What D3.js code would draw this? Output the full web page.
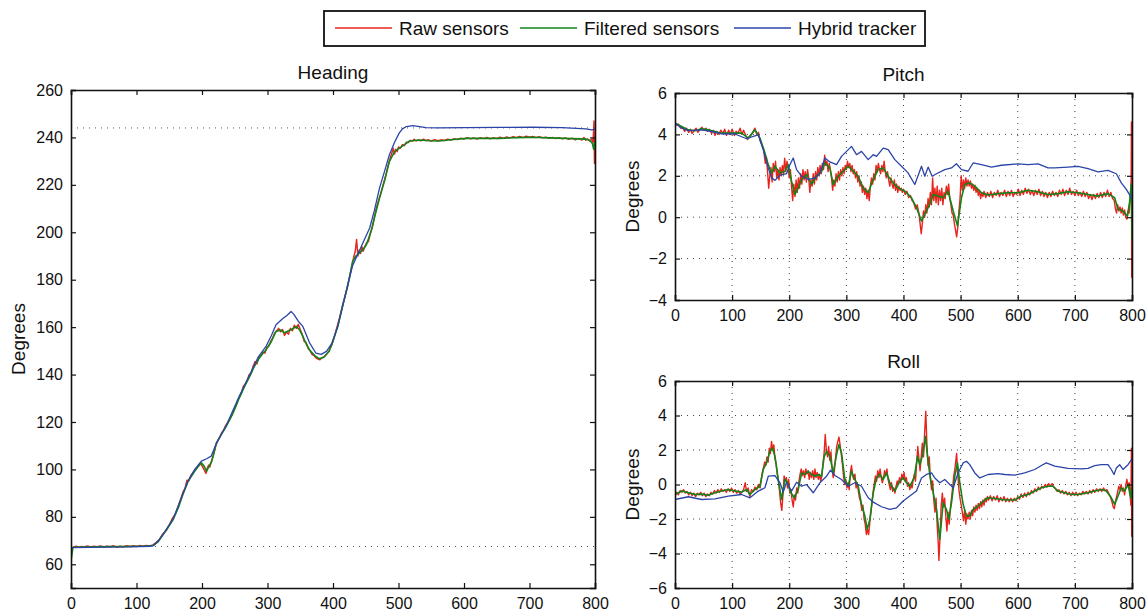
<!DOCTYPE html>
<html><head><meta charset="utf-8">
<script src="https://cdn.jsdelivr.net/npm/d3@7"></script>
<style>
body{margin:0;background:#fff;}
svg{display:block;font-family:"Liberation Sans",Arial,Helvetica,sans-serif;}
</style></head>
<body><svg id="c" width="1148" height="616"></svg>
<script>
// ---------------- DATA ----------------
const seriesNames = ["Raw sensors", "Filtered sensors", "Hybrid tracker"];
const xTicks = [0,100,200,300,400,500,600,700,800];
const headingTicks = [60,80,100,120,140,160,180,200,220,240,260];
const pitchTicks = [-4,-2,0,2,4,6];
const rollTicks = [-6,-4,-2,0,2,4,6];
const headingRefLines = [244, 67.5];

const headingRaw = [[0,66.5],[4,67.3],[8,67.6],[12,67.2],[16,67.5],[20,67.3],[25,67.7],[30,67.3],[35,67.6],[40,67.4],[45,67.7],[50,67.3],[55,67.6],[60,67.4],[65,67.8],[70,67.2],[75,67.6],[80,67.4],[85,67.8],[90,67.5],[95,67.8],[100,67.5],[105,67.9],[110,67.6],[115,67.9],[120,67.7],[125,68.2],[130,69.2],[135,70.5],[140,72.8],[145,74],[150,76.5],[155,79.5],[160,81.5],[165,85.5],[168,88],[171,90.5],[174,92],[177,95.5],[180,95.2],[183,97.5],[186,98.5],[189,99.8],[192,100.5],[195,101.8],[198,102.5],[201,101],[204,99.5],[206,98.3],[208,100.5],[210,101.8],[212,101],[215,104],[218,106.5],[221,110],[224,112],[227,113.5],[230,115.5],[233,116.5],[236,118.5],[240,120],[244,122],[248,124.5],[252,127],[256,130],[260,132],[263,135],[266,136],[269,137.5],[272,140],[275,140.5],[278,143.5],[281,145.5],[284,144.5],[287,147.5],[290,148],[293,149.5],[296,149],[299,151.5],[302,152],[305,154],[308,155.5],[311,157.5],[314,158.5],[317,159.5],[320,158],[323,159],[326,156.5],[329,158],[332,157],[335,159.5],[338,158.5],[341,160.8],[344,159.5],[347,161.2],[350,159],[353,157],[356,154],[359,153.5],[362,151],[365,150],[368,148.5],[371,148],[374,147],[377,146.5],[380,146.2],[383,147],[386,147.5],[390,148.5],[394,150],[398,152.5],[402,156],[406,160],[410,164],[414,168.5],[418,172.5],[422,177],[426,182],[429,186],[432,190],[434,192],[436,197],[438,190],[440,192.5],[442,191],[444,194],[446,192],[448,193.5],[451,195.5],[454,196],[457,199.5],[460,202],[463,206],[466,210],[469,213],[472,215.5],[475,218.5],[478,221.5],[481,224.5],[484,228],[487,231],[490,233.5],[492,235.5],[494,233],[496,235],[498,234],[500,236],[503,235.5],[506,237],[509,236.5],[512,238],[515,237.8],[518,238.8],[521,238.4],[524,239.2],[527,238.5],[530,239],[534,238.5],[538,239.3],[542,238.7],[546,239],[550,238.4],[555,239.1],[560,238.6],[565,239],[570,238.7],[575,239.3],[580,238.9],[585,239.5],[590,239.1],[595,239.7],[600,239.3],[605,239.9],[610,239.4],[615,239.8],[620,239.3],[625,239.9],[630,239.5],[635,240],[640,239.4],[645,239.9],[650,239.5],[655,240.1],[660,239.6],[665,240.2],[670,239.8],[675,240.3],[680,239.9],[685,240.4],[690,239.9],[695,240.5],[700,240.1],[705,240.4],[710,239.9],[715,240.3],[720,239.8],[725,240.1],[730,239.6],[735,240],[740,239.5],[745,239.9],[750,239.4],[755,239.8],[760,239.2],[765,239.7],[770,239],[775,239.6],[780,238.9],[783,240],[786,238.8],[789,239.3],[792,238.5],[795,239.2],[797,238],[798.5,247],[799.2,229],[800,240]];

const headingFiltered = [[0,61.5],[3,67.2],[20,67.3],[40,67.4],[60,67.5],[80,67.5],[100,67.6],[115,67.7],[125,67.9],[133,69.5],[141,72.6],[148,75.5],[156,78.9],[164,84],[171,89.5],[179,95.1],[189,99.3],[195,101.5],[199,102.8],[203,101.5],[207,99.3],[211,101.5],[215,103.5],[222,111.2],[230,115],[237,118.2],[247,123.5],[257,130.2],[265,135],[273,139.3],[280,143.5],[286,146.3],[293,149],[298,150.5],[305,153.5],[313,158.2],[320,158.8],[326,157.6],[333,158.6],[338,159.2],[344,160.3],[349,158.8],[354,156.1],[359,153],[364,150.5],[372,148],[379,146.7],[386,147.3],[394,149.8],[400,154],[408,161],[415,169.5],[423,178],[430,187.7],[435,190],[440,191.2],[445,192.5],[451,194.7],[458,200.3],[464,207],[471,214.4],[479,222],[486,229.8],[494,234],[501,235.4],[509,237],[517,238.5],[532,238.9],[547,238.6],[562,238.5],[580,239],[603,239.6],[630,239.6],[654,239.6],[680,239.9],[705,240.1],[730,239.8],[755,239.6],[775,239.4],[786,239.3],[792,238.8],[796,237.5],[798,235],[800,238.5]];

const headingHybrid = [[0,67],[30,67.1],[60,67.2],[90,67.3],[120,67.6],[126,67.9],[133,69.8],[141,72.8],[156,79.2],[171,89.8],[179,95.3],[189,100],[199,103.5],[207,104.5],[214,105.6],[222,111],[237,118.5],[257,131],[273,140],[286,147.5],[298,152],[306,156.5],[313,161],[323,163.5],[330,165],[336,166.6],[340,165.5],[347,162.5],[354,160.3],[364,153.5],[374,149],[382,148.5],[390,149.8],[398,153],[407,160],[415,169],[423,178.5],[430,186],[440,192],[448,197],[456,201.8],[463,209],[471,218.6],[479,226],[486,232.6],[494,238],[501,241.8],[506,243.6],[512,244.6],[522,245],[532,244.6],[542,244.1],[560,244],[603,244.1],[650,244.2],[705,244.3],[750,244.1],[786,243.6],[795,243.2],[800,243.5]];

const pitchRaw = [[0,4.6],[3,4.45],[6,4.5],[10,4.3],[13,4.35],[17,4.15],[20,4.3],[24,4.1],[27,4.25],[30,4.05],[34,4.2],[37,4.3],[40,4.1],[44,4.25],[47,4.35],[50,4.2],[54,4.3],[57,4.15],[60,4.25],[64,4.05],[67,4.2],[70,3.95],[73,4.15],[77,4.0],[80,4.2],[84,4.05],[87,4.25],[90,3.95],[94,4.2],[97,4.0],[100,4.25],[104,3.95],[107,4.15],[110,4.05],[114,4.3],[117,4.0],[120,4.2],[124,3.95],[127,3.75],[130,3.9],[134,4.0],[137,4.15],[140,4.3],[143,4.0],[146,4.1],[149,3.7],[152,3.5],[155,3.3],[158,2.6],[160,2.9],[162,2.2],[164,1.4],[166,2.0],[168,2.4],[170,1.7],[172,2.6],[174,2.2],[176,2.7],[178,1.9],[180,2.3],[182,1.8],[184,2.4],[186,2.0],[188,2.5],[190,2.1],[192,2.85],[194,2.2],[196,2.7],[198,2.4],[200,1.9],[202,2.3],[204,1.5],[206,0.8],[208,1.6],[210,1.0],[212,1.8],[214,1.2],[216,1.9],[218,1.4],[220,2.1],[222,1.6],[224,2.3],[226,1.8],[228,2.2],[230,1.7],[232,2.3],[234,1.9],[236,1.2],[238,1.8],[240,1.5],[242,2.1],[244,1.6],[246,2.2],[248,1.8],[250,2.4],[252,2.0],[254,2.5],[256,2.1],[258,2.6],[260,2.3],[262,3.0],[264,2.5],[266,2.7],[268,2.2],[270,2.6],[272,2.3],[274,1.9],[276,1.3],[278,1.8],[280,1.5],[282,2.1],[284,1.7],[286,2.2],[288,1.8],[290,2.3],[292,2.0],[294,2.4],[296,2.1],[298,2.5],[300,2.3],[302,2.7],[304,2.4],[306,2.6],[308,2.2],[310,2.5],[312,2.1],[314,2.3],[316,1.9],[318,2.2],[320,1.7],[322,2.0],[324,1.5],[326,1.7],[328,1.2],[330,1.5],[332,1.1],[334,1.4],[336,0.9],[338,1.3],[340,0.8],[342,1.5],[344,1.9],[346,1.6],[348,2.1],[350,1.8],[352,2.5],[354,2.2],[356,2.6],[358,2.3],[360,2.1],[362,2.5],[364,2.2],[366,2.7],[368,2.2],[370,1.9],[372,2.2],[374,1.8],[376,1.5],[378,1.9],[380,1.6],[382,1.4],[384,1.8],[386,1.3],[388,1.6],[390,1.2],[392,1.5],[394,1.3],[396,1.4],[398,1.2],[400,1.35],[403,1.1],[406,1.25],[409,0.95],[412,1.05],[415,0.8],[418,0.7],[421,0.4],[424,0.6],[427,0.2],[429,-0.3],[431,-0.8],[433,-0.3],[435,0.3],[437,0.0],[439,0.6],[441,0.2],[443,0.9],[445,0.5],[447,1.2],[449,0.6],[451,1.9],[453,0.8],[455,1.4],[457,0.7],[459,1.5],[461,0.6],[463,1.3],[465,0.8],[467,1.4],[469,0.6],[471,1.2],[473,0.9],[475,1.5],[477,1.1],[479,1.6],[481,0.9],[483,0.6],[485,0.2],[487,0.1],[489,-0.3],[491,-0.6],[493,-0.95],[495,-0.5],[497,0.3],[499,0.9],[501,2.0],[503,1.3],[505,1.8],[507,1.4],[509,1.9],[511,1.5],[513,1.8],[515,1.5],[517,1.75],[519,1.4],[521,1.6],[523,1.3],[525,1.55],[527,1.2],[529,1.4],[531,1.05],[533,1.3],[535,0.9],[537,1.2],[539,1.0],[541,1.25],[544,0.95],[547,1.2],[550,1.0],[553,1.25],[556,0.95],[559,1.2],[562,1.05],[565,1.3],[568,1.0],[571,1.2],[574,1.05],[577,1.3],[580,1.0],[583,1.25],[586,1.05],[589,1.3],[592,1.0],[595,1.2],[598,1.1],[601,1.35],[604,1.05],[607,1.3],[610,1.1],[613,1.4],[616,1.15],[619,1.35],[622,1.1],[625,1.3],[628,1.05],[631,1.3],[634,1.1],[637,1.35],[640,1.05],[643,1.25],[646,1.0],[649,1.2],[652,0.95],[655,1.2],[658,1.0],[661,1.25],[664,1.05],[667,1.2],[670,1.0],[673,1.3],[676,1.1],[679,1.35],[682,1.05],[685,1.3],[688,1.1],[691,1.4],[694,1.1],[697,1.25],[700,1.05],[703,1.3],[706,1.05],[709,1.2],[712,1.0],[715,1.25],[718,1.0],[721,1.2],[724,0.9],[727,1.1],[730,0.85],[733,1.1],[736,0.9],[739,1.15],[742,0.95],[745,1.2],[748,0.95],[751,1.2],[754,1.0],[757,1.3],[760,1.0],[763,1.2],[766,0.9],[769,0.8],[771,0.4],[773,0.2],[775,0.6],[777,0.3],[779,0.5],[781,0.2],[783,0.45],[785,0.1],[787,0.35],[789,0.0],[791,-0.1],[793,0.3],[795,0.2],[797,1.0],[798.5,1.8],[799,4.6],[799.5,-2.9],[800,1.2]];

const pitchFiltered = [[0,4.54],[11.7,4.38],[23.3,4.22],[35,4.18],[46.6,4.27],[58.3,4.22],[70,4.14],[81.6,4.06],[99,4.06],[116.6,4.06],[128.3,3.82],[140,4.22],[148.7,3.82],[157.4,3.1],[163.3,2.54],[169,2.14],[175,2.46],[183.7,2.14],[192.4,2.22],[198.3,2.54],[204,1.74],[210,1.1],[215.7,1.42],[221.6,1.82],[230.3,2.06],[239,1.58],[247.8,1.98],[256.6,2.22],[262.4,2.62],[271,2.38],[277,1.58],[285.7,1.98],[294.5,2.22],[303.2,2.46],[312,2.22],[320.7,1.98],[329.4,1.42],[338.2,1.18],[347,1.82],[355.7,2.3],[364.4,2.38],[373.2,1.98],[382,1.66],[390.7,1.42],[402.3,1.26],[414,0.94],[422.7,0.46],[431.5,-0.18],[437.3,0.14],[446,0.62],[452,1.1],[460.6,1.02],[469.4,0.94],[478,1.26],[487,0.3],[494.5,-0.42],[501.5,0.94],[507.3,1.58],[516,1.66],[524.8,1.5],[536.4,1.18],[548,1.07],[565.6,1.14],[583,1.18],[600.6,1.18],[618,1.3],[635.6,1.23],[653,1.1],[670.6,1.14],[688,1.23],[705.5,1.18],[723,1.1],[740.5,1.02],[758,1.14],[769.7,0.94],[775.5,0.38],[784.3,0.3],[792,0.06],[796,0.78],[798.8,1.58],[800,-1.1]];

const pitchHybrid = [[0,4.54],[11.7,4.3],[23.3,4.18],[46.6,4.22],[64,4.14],[81.6,4.03],[105,4.02],[125.4,3.79],[137,3.9],[145.8,3.98],[154.5,3.26],[163.3,2.38],[169,1.9],[175,1.78],[183.7,2.03],[195.3,2.1],[201.2,2.54],[207,2.86],[212.8,2.3],[221.6,1.98],[233.2,1.82],[245,1.9],[253.6,2.1],[262.4,2.86],[271.1,2.67],[282.8,2.54],[291.5,2.94],[300.3,3.18],[309,3.42],[317.8,3.02],[326.5,3.18],[338.2,2.78],[347,3.02],[352.8,2.94],[364.4,3.34],[373.2,3.26],[384.8,2.78],[396.5,2.46],[408,2.14],[419.8,1.58],[431.5,2.46],[437.3,1.98],[443.1,2.42],[450.1,1.98],[457.7,2.1],[472.3,2.3],[484,2.38],[492.7,2.58],[501.5,2.3],[513,2.22],[521.9,2.62],[536.4,2.54],[554,2.42],[571.4,2.51],[600.6,2.58],[618,2.54],[635.6,2.58],[653,2.38],[664.7,2.38],[688,2.42],[705.5,2.46],[723,2.35],[740.5,2.19],[758,2.26],[772.6,2.1],[781.3,1.66],[790,1.34],[800,0.9]];

const rollRaw = [[0,-0.7],[3,-0.45],[6,-0.6],[9,-0.35],[12,-0.45],[15,-0.3],[18,-0.5],[21,-0.4],[24,-0.6],[27,-0.45],[30,-0.65],[33,-0.5],[36,-0.7],[39,-0.5],[42,-0.6],[45,-0.45],[48,-0.65],[51,-0.5],[54,-0.7],[57,-0.55],[60,-0.65],[63,-0.45],[66,-0.55],[69,-0.35],[72,-0.5],[75,-0.3],[78,-0.45],[81,-0.25],[84,-0.4],[87,-0.3],[90,-0.45],[93,-0.25],[96,-0.4],[99,-0.2],[102,-0.45],[105,-0.3],[108,-0.5],[111,-0.35],[114,-0.55],[117,-0.45],[120,-0.3],[123,0.1],[125,-0.4],[128,-0.2],[131,-0.7],[134,-0.3],[137,-0.4],[140,-0.15],[143,-0.3],[146,0.0],[149,-0.2],[151,0.3],[153,0.7],[155,1.0],[157,1.3],[159,1.1],[161,1.6],[163,1.3],[165,2.1],[167,1.8],[169,2.5],[171,2.0],[173,2.3],[175,1.5],[177,1.2],[179,0.6],[181,0.2],[183,-0.4],[185,-1.1],[187,-1.5],[189,-0.6],[191,0.5],[193,0.2],[195,0.4],[197,-0.2],[199,0.3],[201,-0.5],[203,-0.3],[205,-0.9],[207,-1.3],[209,-0.6],[211,-0.9],[213,-0.2],[215,-0.5],[217,0.2],[219,0.6],[221,0.9],[223,0.5],[225,0.8],[227,0.4],[229,0.9],[231,0.6],[233,0.8],[235,0.3],[237,0.7],[239,0.4],[241,0.8],[243,0.3],[245,0.9],[247,0.4],[249,0.7],[251,0.3],[253,0.6],[255,0.2],[257,0.5],[259,1.2],[261,1.8],[263,2.9],[265,2.0],[267,1.6],[269,2.2],[271,1.4],[273,1.9],[275,0.9],[277,0.4],[279,0.8],[281,1.5],[283,2.2],[285,2.5],[287,2.75],[289,2.3],[291,1.8],[293,1.2],[295,0.5],[297,0.0],[299,0.3],[301,-0.2],[303,0.1],[305,-0.3],[307,0.7],[309,1.1],[311,0.5],[313,0.3],[315,0.6],[317,-0.2],[319,0.1],[321,-0.4],[323,-0.8],[325,-1.0],[327,-1.5],[329,-1.2],[331,-2.0],[333,-2.3],[335,-2.9],[337,-2.6],[339,-2.9],[341,-2.2],[343,-1.6],[345,-1.0],[347,-0.4],[349,0.1],[351,0.5],[353,0.2],[355,0.8],[357,0.4],[359,0.9],[361,0.4],[363,0.1],[365,0.4],[367,0.8],[369,0.5],[371,0.9],[373,0.3],[375,0.0],[377,-0.3],[379,0.1],[381,-0.4],[383,-0.2],[385,-0.5],[387,-0.1],[389,0.2],[391,0.0],[393,0.4],[395,0.1],[397,0.6],[399,0.3],[401,0.7],[403,0.2],[405,0.4],[407,-0.1],[409,0.1],[411,-0.3],[413,0.0],[415,-0.2],[417,0.3],[419,0.6],[421,0.2],[423,1.2],[425,2.2],[427,1.5],[429,0.8],[431,1.6],[433,2.4],[435,1.6],[437,3.0],[439,4.25],[441,2.3],[443,1.1],[445,1.6],[447,0.4],[449,-0.3],[451,0.2],[453,-0.9],[455,-1.6],[457,-0.8],[459,-2.4],[461,-3.5],[462,-4.4],[464,-3.0],[466,-1.2],[468,-0.5],[470,-1.3],[472,-0.8],[474,-1.8],[476,-2.7],[478,-1.6],[480,-2.3],[482,-1.4],[484,-0.8],[486,-0.2],[488,0.5],[490,0.9],[492,1.5],[493,1.8],[495,0.6],[497,-0.3],[499,-0.8],[501,-1.2],[503,-1.6],[505,-2.1],[507,-1.5],[509,-2.3],[511,-1.7],[513,-2.0],[515,-1.6],[517,-2.0],[519,-1.5],[521,-1.8],[523,-1.3],[525,-1.6],[527,-1.2],[529,-1.5],[531,-1.1],[533,-1.4],[535,-1.0],[537,-1.3],[539,-0.9],[541,-1.2],[543,-0.8],[545,-1.0],[547,-0.7],[549,-0.9],[552,-0.65],[555,-0.95],[558,-0.7],[561,-0.9],[564,-0.65],[567,-1.0],[570,-0.75],[573,-0.95],[576,-0.7],[579,-1.0],[582,-0.8],[585,-1.0],[588,-0.8],[591,-1.0],[594,-0.8],[597,-0.95],[600,-0.7],[603,-0.85],[606,-0.55],[609,-0.75],[612,-0.5],[615,-0.7],[618,-0.45],[621,-0.6],[624,-0.35],[627,-0.5],[630,-0.25],[633,-0.4],[636,-0.15],[639,-0.3],[642,-0.1],[645,-0.2],[648,0.0],[651,-0.15],[654,0.05],[657,-0.1],[660,0.05],[663,-0.15],[666,-0.25],[669,-0.4],[672,-0.3],[675,-0.5],[678,-0.35],[681,-0.55],[684,-0.4],[687,-0.6],[690,-0.45],[693,-0.65],[696,-0.45],[699,-0.6],[702,-0.45],[705,-0.65],[708,-0.5],[711,-0.6],[714,-0.4],[717,-0.55],[720,-0.4],[723,-0.55],[726,-0.35],[729,-0.5],[732,-0.3],[735,-0.45],[738,-0.25],[741,-0.4],[744,-0.25],[747,-0.4],[750,-0.2],[753,-0.35],[756,-0.3],[759,-0.5],[762,-0.7],[765,-1.0],[767,-1.3],[769,-1.4],[771,-1.0],[773,-0.7],[775,-0.4],[777,-0.1],[779,-0.3],[781,0.0],[783,-0.4],[785,-0.2],[787,-0.6],[789,-0.1],[791,0.3],[793,-0.1],[795,0.1],[797,-0.7],[798,-1.2],[799,2.1],[799.5,-3.0],[800,-0.2]];

const rollFiltered = [[0,-0.58],[11.7,-0.38],[23.3,-0.48],[35,-0.58],[46.6,-0.56],[58.3,-0.62],[70,-0.48],[81.6,-0.38],[93.3,-0.29],[105,-0.38],[116.6,-0.44],[125.4,-0.29],[131.2,-0.58],[140,-0.29],[148.7,-0.1],[154.5,0.87],[160.3,1.25],[166.2,1.92],[170.3,2.12],[175,1.63],[180.8,0.29],[186.6,-0.87],[192.4,0.29],[197,0.1],[203,-0.48],[208.7,-0.77],[215.7,-0.29],[221.6,0.67],[227.4,0.58],[233.2,0.77],[239,0.58],[245,0.48],[250.7,0.58],[256.6,0.48],[261.2,1.63],[265.3,1.92],[271.1,1.63],[277,0.67],[282.8,1.73],[286.9,2.31],[291.5,1.83],[297.4,0.29],[303.2,-0.1],[309,0.77],[314.9,0.29],[320.7,-0.1],[326.5,-1.15],[332.4,-1.83],[336.4,-2.6],[341.1,-2.02],[347,-0.48],[352.8,0.38],[358.6,0.58],[364.4,0.29],[370.3,0.67],[376,0.1],[384.8,-0.38],[393.6,0.19],[399.4,0.38],[405.2,0.1],[411,-0.1],[418.7,0.38],[424.5,1.63],[428.6,1.15],[434.4,1.83],[438.5,2.79],[442,1.63],[446,0.58],[452,-0.48],[457.7,-1.44],[463.6,-3.17],[469.4,-1.06],[475.2,-1.44],[479.3,-2.02],[484,-1.06],[489.8,0.48],[494.5,1.25],[498.5,0.1],[504.4,-1.15],[510.2,-1.83],[516,-1.83],[521.9,-1.44],[530.6,-1.25],[539.4,-0.96],[548,-0.77],[559.8,-0.81],[571.4,-0.87],[583,-0.9],[594.8,-0.9],[606.4,-0.67],[618,-0.58],[629.7,-0.38],[641.4,-0.19],[653,-0.1],[661.8,-0.1],[670.6,-0.38],[682,-0.48],[694,-0.58],[705.5,-0.58],[723,-0.48],[734.7,-0.38],[746.4,-0.29],[755,-0.38],[763.8,-0.77],[769.7,-1.15],[775.5,-0.67],[781.3,-0.19],[787.2,-0.38],[793,0],[797.7,-0.77],[800,-0.1]];

const rollHybrid = [[0,-0.87],[23.3,-0.71],[46.6,-0.87],[70,-0.83],[93.3,-0.67],[116.6,-0.58],[131.2,-0.77],[145.8,-0.38],[157.4,-0.19],[163.3,0.48],[175,0.52],[183.7,0.1],[189.5,-0.44],[195.3,0.13],[204,-0.38],[212.8,0.13],[221.6,-0.1],[230.3,0],[242,-0.48],[253.6,0.1],[265.3,0.48],[272.3,0.83],[280,0.52],[291.5,0.29],[303.2,-0.1],[314.9,0.1],[326.5,-0.1],[338.2,-0.77],[347,-1.02],[361.5,-1.29],[376,-1.44],[387.8,-1.35],[399.4,-0.96],[411,-0.67],[422.7,-0.38],[431.5,0.38],[440.2,0.58],[449,0.67],[454.8,0.38],[463.6,0.1],[472.3,0.29],[481,0],[486.9,-0.19],[495.6,0.67],[504.4,1.25],[510.2,1.35],[516,1.15],[524.8,0.67],[533.5,0.38],[548,0.58],[565.6,0.63],[577.3,0.58],[594.8,0.54],[612.2,0.67],[629.7,0.87],[641.4,1.1],[650,1.25],[664.7,1.06],[688,0.94],[711.4,0.9],[723,0.94],[734.7,1.1],[746.4,1.15],[758,1.15],[763.8,0.87],[768.5,0.58],[772.6,0.96],[778.4,1.15],[784.3,0.87],[793,1.15],[800,1.48]];

// ---------------- STYLE ----------------
const colors = ["#e8231c", "#12841a", "#2b44a8"];
const widths = [1.4, 1.6, 1.3];
const FONT = 16;
const BIG = 19;

const svg = d3.select("#c");

function panel(opt) {
  const {left, right, top, bottom, yDomain, yTicksArr, title, titleY, ylabelX, grid, refLines, series} = opt;
  const x = d3.scaleLinear().domain([0, 800]).range([left, right]);
  const y = d3.scaleLinear().domain(yDomain).range([bottom, top]);
  const g = svg.append("g");
  const clipId = "clip" + Math.round(left) + "_" + Math.round(top);
  svg.append("clipPath").attr("id", clipId).append("rect")
    .attr("x", left).attr("y", top - 1).attr("width", right - left + 1).attr("height", bottom - top + 2);

  if (grid) {
    g.append("g").selectAll("line").data(xTicks.slice(1, -1)).join("line")
      .attr("x1", d => x(d)).attr("x2", d => x(d)).attr("y1", top).attr("y2", bottom)
      .attr("stroke", "#444").attr("stroke-width", 1).attr("stroke-dasharray", "1,5");
    g.append("g").selectAll("line").data(yTicksArr.filter(v => v !== yDomain[0] && v !== yDomain[1])).join("line")
      .attr("x1", left).attr("x2", right).attr("y1", d => y(d)).attr("y2", d => y(d))
      .attr("stroke", "#444").attr("stroke-width", 1).attr("stroke-dasharray", "1,5");
  }
  if (refLines) {
    g.append("g").selectAll("line").data(refLines).join("line")
      .attr("x1", left).attr("x2", right).attr("y1", d => y(d)).attr("y2", d => y(d))
      .attr("stroke", "#555").attr("stroke-width", 1).attr("stroke-dasharray", "1,5");
  }

  const line = d3.line().x(d => x(d[0])).y(d => y(d[1]));
  const lg = g.append("g").attr("clip-path", `url(#${clipId})`);
  series.forEach((s, i) => {
    lg.append("path").datum(s).attr("d", line).attr("fill", "none")
      .attr("stroke", colors[i]).attr("stroke-width", widths[i]).attr("stroke-linejoin", "round");
  });

  const fmt = d => (d < 0 ? "\u2212" + Math.abs(d) : String(d));
  const axB = g.append("g").attr("transform", `translate(0,${bottom})`)
    .call(d3.axisBottom(x).tickValues(xTicks).tickSize(-5).tickPadding(10).tickFormat(fmt));
  const axT = g.append("g").attr("transform", `translate(0,${top})`)
    .call(d3.axisTop(x).tickValues(xTicks).tickSize(-5).tickFormat(""));
  const axL = g.append("g").attr("transform", `translate(${left},0)`)
    .call(d3.axisLeft(y).tickValues(yTicksArr).tickSize(-5).tickPadding(8).tickFormat(fmt));
  const axR = g.append("g").attr("transform", `translate(${right},0)`)
    .call(d3.axisRight(y).tickValues(yTicksArr).tickSize(-5).tickFormat(""));
  [axB, axT, axL, axR].forEach(a => {
    a.select(".domain").attr("stroke", "#111").attr("stroke-width", 1.6);
    a.selectAll(".tick line").attr("stroke", "#111").attr("stroke-width", 1.2);
    a.selectAll("text").attr("font-size", FONT).attr("fill", "#111")
      .attr("font-family", '"Liberation Sans",Arial,sans-serif');
  });

  g.append("text").attr("x", (left + right) / 2).attr("y", titleY).attr("text-anchor", "middle")
    .attr("font-size", BIG).attr("fill", "#111").text(title);
  g.append("text").attr("transform", `translate(${ylabelX},${(top + bottom) / 2}) rotate(-90)`)
    .attr("text-anchor", "middle").attr("font-size", BIG).attr("fill", "#111").text("Degrees");
}

panel({left: 71, right: 595, top: 90, bottom: 588, yDomain: [50, 260], yTicksArr: headingTicks,
  title: "Heading", titleY: 79, ylabelX: 25, grid: false, refLines: headingRefLines,
  series: [headingRaw, headingFiltered, headingHybrid]});
panel({left: 675, right: 1132, top: 93, bottom: 300, yDomain: [-4, 6], yTicksArr: pitchTicks,
  title: "Pitch", titleY: 81, ylabelX: 639, grid: true, refLines: null,
  series: [pitchRaw, pitchFiltered, pitchHybrid]});
panel({left: 675, right: 1132, top: 381, bottom: 588, yDomain: [-6, 6], yTicksArr: rollTicks,
  title: "Roll", titleY: 368, ylabelX: 639, grid: true, refLines: null,
  series: [rollRaw, rollFiltered, rollHybrid]});

// legend
const leg = svg.append("g");
leg.append("rect").attr("x", 324).attr("y", 11).attr("width", 601).attr("height", 35)
  .attr("fill", "#fff").attr("stroke", "#111").attr("stroke-width", 1.8);
const legX = [335, 520, 734];
seriesNames.forEach((n, i) => {
  leg.append("line").attr("x1", legX[i]).attr("x2", legX[i] + 57).attr("y1", 28).attr("y2", 28)
    .attr("stroke", colors[i]).attr("stroke-width", widths[i]);
  leg.append("text").attr("x", legX[i] + 64).attr("y", 35).attr("font-size", BIG).attr("fill", "#111").text(n);
});
</script></body></html>
